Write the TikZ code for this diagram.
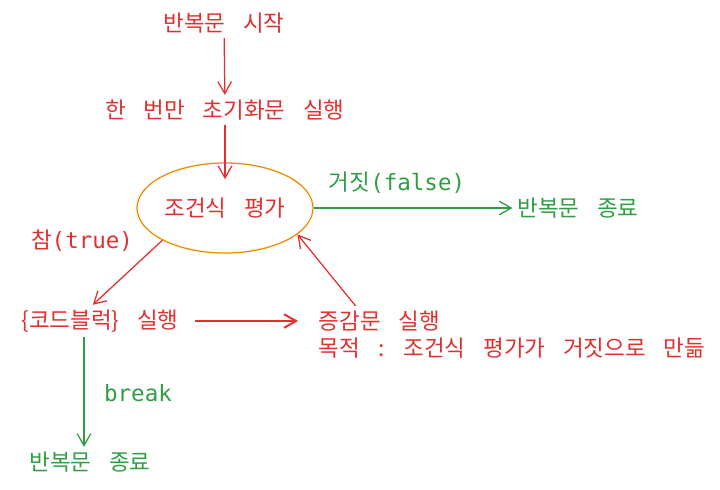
\documentclass[tikz,border=0pt]{standalone}
\usepackage{fontspec}
\setmainfont[WordSpace=3.5]{Noto Sans CJK KR}
\setmonofont{DejaVu Sans Mono}
\usetikzlibrary{arrows.meta,shapes.geometric}
\definecolor{xred}{HTML}{E03131}
\definecolor{xgreen}{HTML}{2F9E44}
\definecolor{xorange}{HTML}{F08C00}

\begin{document}
\begin{tikzpicture}[x=0.025cm, y=-0.025cm,
  font=\fontsize{16}{19}\selectfont,
  >={Straight Barb[length=3mm,width=3.4mm]},
  redtext/.style={text=xred},
  greentext/.style={text=xgreen},
  redline/.style={draw=xred, line width=0.9pt, ->},
  greenline/.style={draw=xgreen, line width=0.9pt, ->}]
\useasboundingbox (0,0) rectangle (720,489);

% Write
\node[redtext] (start) at (224, 23) {반복문 시작};
\node[redtext] (init) at (225, 110) {한 번만 초기화문 실행};
\node[ellipse, draw=xorange, line width=0.9pt, redtext, inner sep=0pt,
  minimum width=4.4cm, minimum height=2.25cm] (cond) at (225, 208) {조건식 평가};
\node[greentext] (endR) at (578, 208) {반복문 종료};
\node[redtext] (code) at (100, 321) {\{코드블럭\} 실행};
\node[redtext, anchor=west] (inc) at (314, 321) {증감문 실행};
\node[redtext, anchor=west] (goal) at (314, 348) {목적 : 조건식 평가가 거짓으로 만듦};
\node[greentext] (endB) at (90, 462) {반복문 종료};

% Labels
\node[greentext] (lfalse) at (397, 183) {거짓\texttt{(false)}};
\node[redtext] (ltrue) at (82, 241) {참\texttt{(true)}};
\node[greentext] (lbreak) at (138, 393) {\texttt{break}};

% Arrows
\draw[redline] (start) -- (init);
\draw[redline] (init) -- ([yshift=-0.42cm]cond.north);
\draw[greenline] (cond.east) -- (endR.west);
\draw[redline] (cond.south west) -- ([xshift=-0.18cm]code.north);
\draw[redline, line width=1.4pt] ([xshift=0.3cm]code.east) -- ([xshift=-0.4cm]inc.west);
\draw[redline] ([xshift=-0.6cm]inc.north) -- (cond.-20);
\draw[greenline] ([xshift=-0.4cm]code.south) -- ([xshift=-0.4cm]code.south |- endB.north);

\end{tikzpicture}
\end{document}
